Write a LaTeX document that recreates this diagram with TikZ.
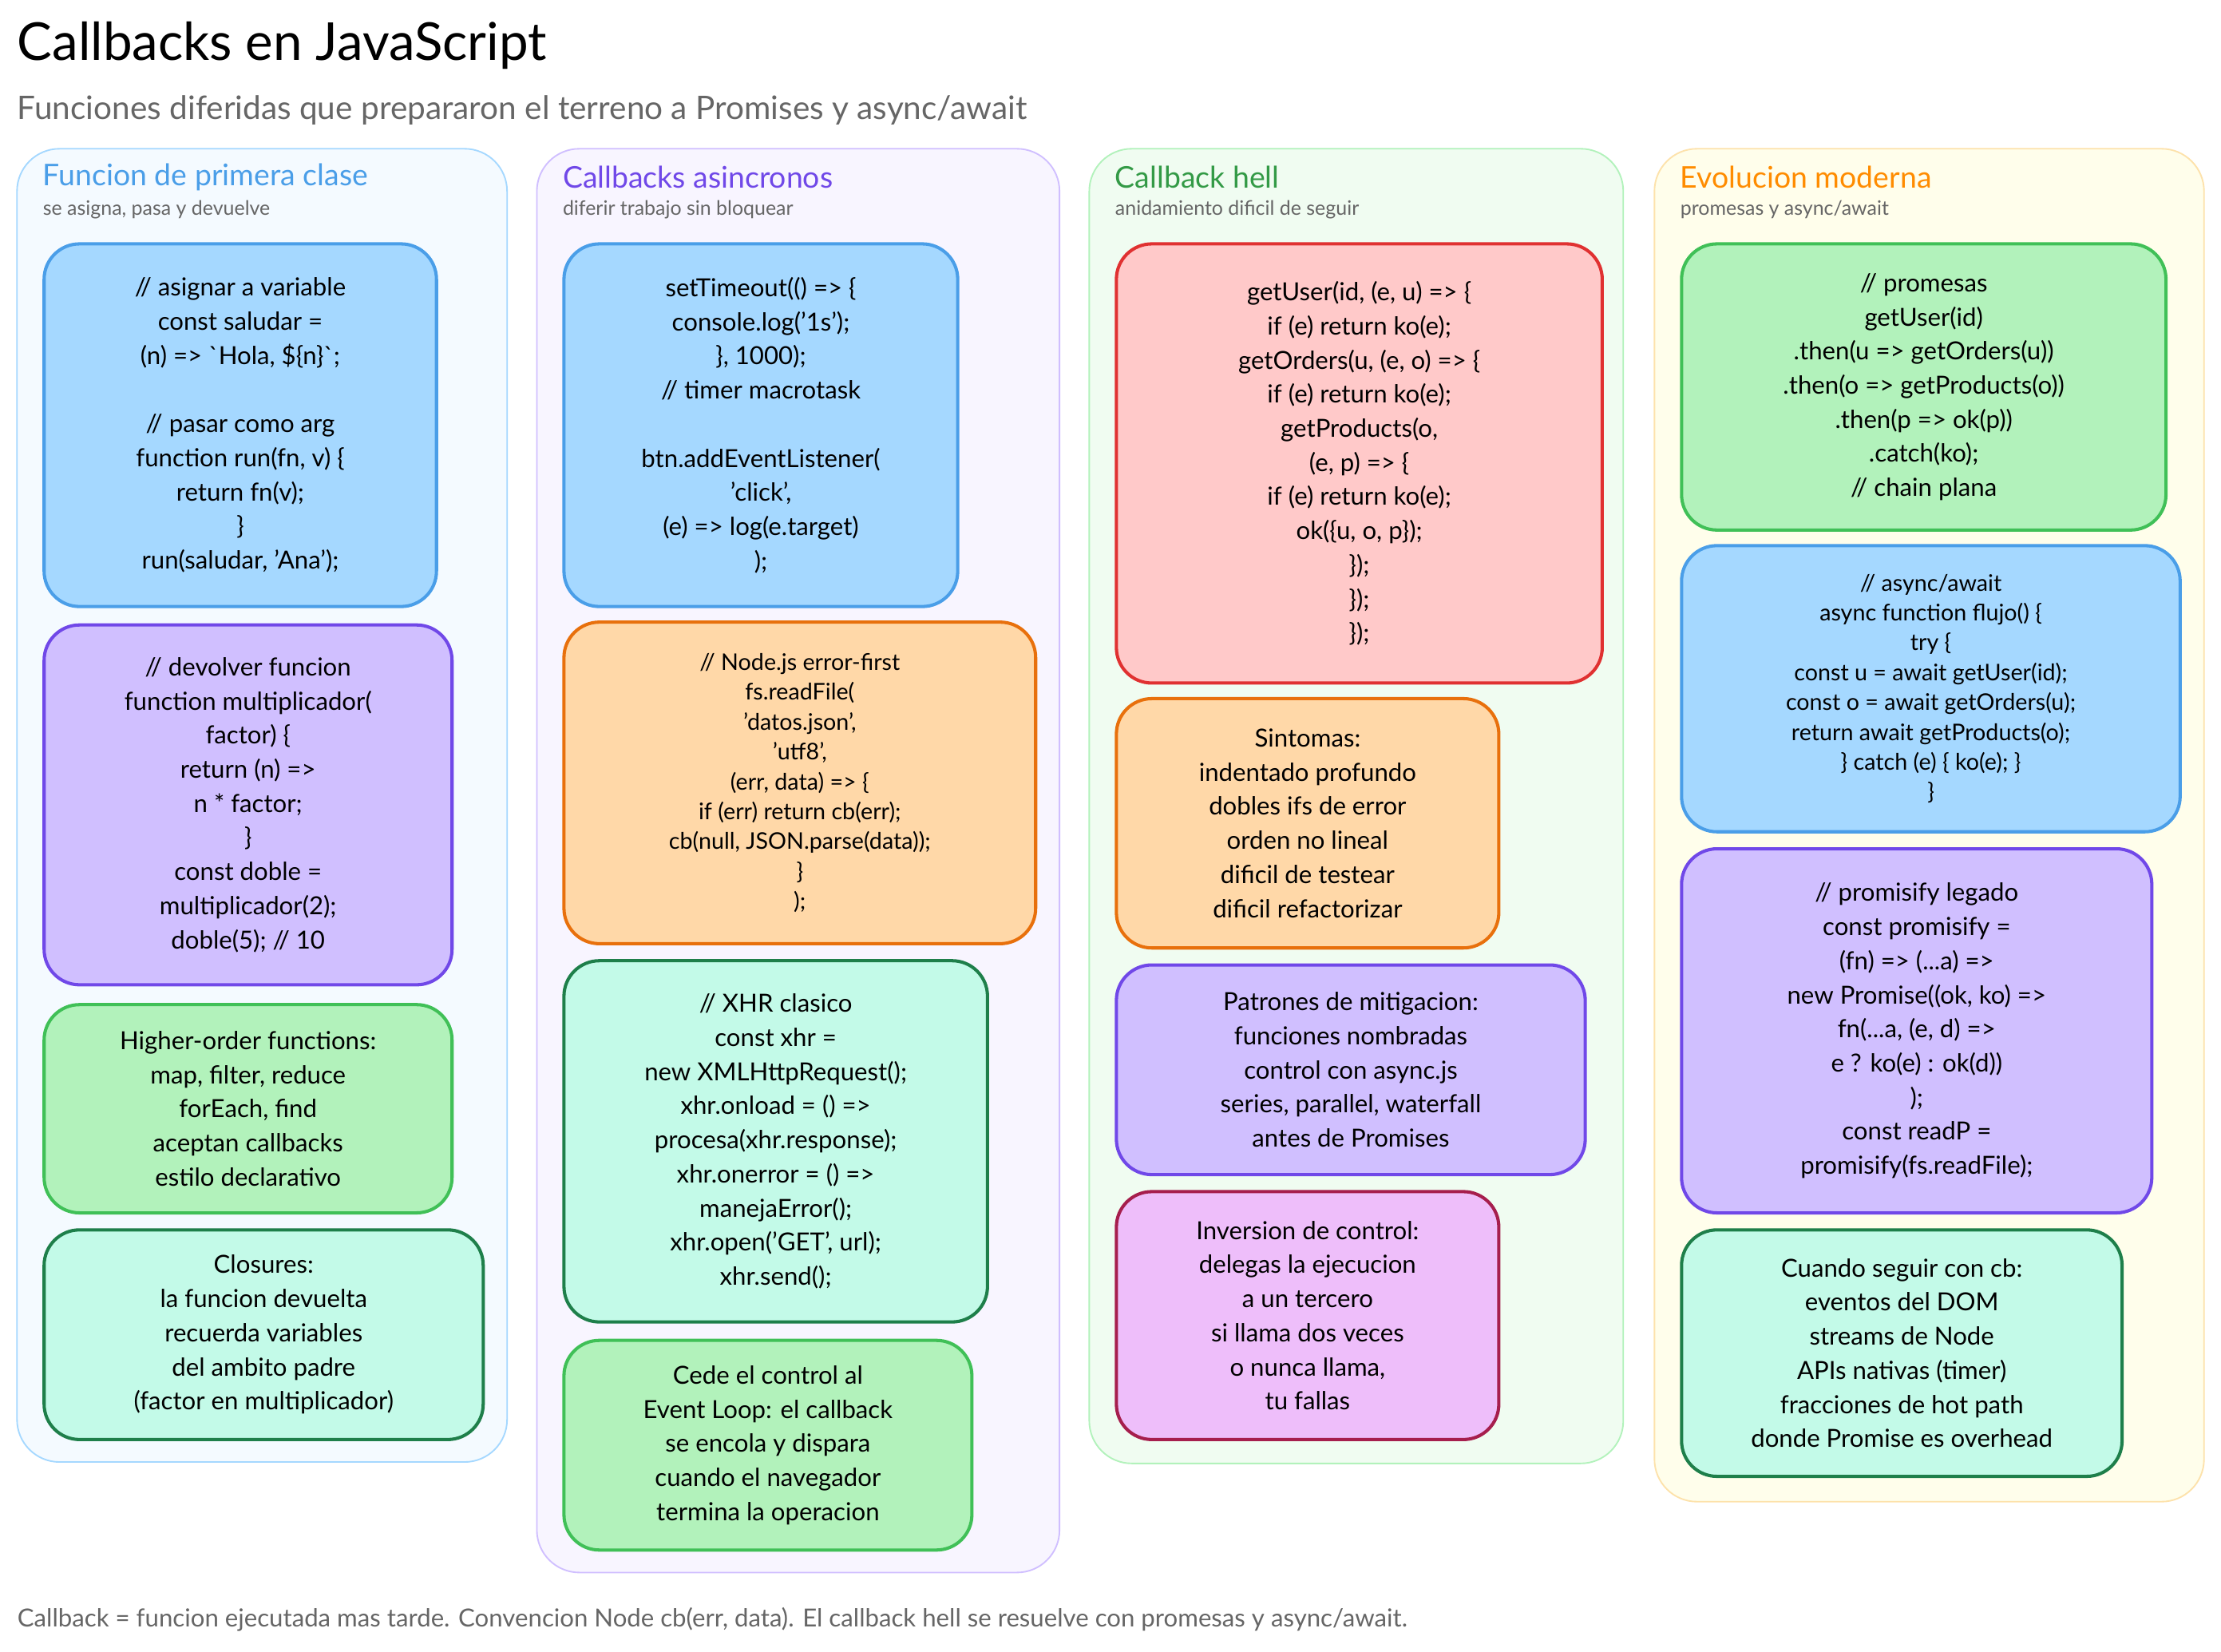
\documentclass[tikz,border=0pt]{standalone}
\usepackage{fontspec}
\setmainfont{Lato}
\usepackage{xcolor}
\usetikzlibrary{positioning}
\definecolor{cb_blue}{HTML}{A5D8FF}   \definecolor{cb_blueD}{HTML}{4A9EE8}
\definecolor{cb_purple}{HTML}{D0BFFF} \definecolor{cb_purpleD}{HTML}{7048E8}
\definecolor{cb_green}{HTML}{B2F2BB}  \definecolor{cb_greenD}{HTML}{40C057}
\definecolor{cb_teal}{HTML}{C3FAE8}   \definecolor{cb_tealD}{HTML}{1E7F4A}
\definecolor{cb_orange}{HTML}{FFD8A8} \definecolor{cb_orangeD}{HTML}{E8700C}
\definecolor{cb_red}{HTML}{FFC9C9}    \definecolor{cb_redD}{HTML}{E03131}
\definecolor{cb_pink}{HTML}{EEBEFA}   \definecolor{cb_pinkD}{HTML}{A61E4D}
\definecolor{cb_gray}{HTML}{666666}
\newcommand{\cardfont}{\fontsize{10}{13.7}\selectfont}
\newcommand{\smallcode}{\fontsize{9.2}{12}\selectfont}
\begin{document}
\begin{tikzpicture}[
        card/.style={rounded corners=0.5cm, line width=1.3pt, align=center,
                     anchor=north west, inner sep=0pt, font=\cardfont},
        cblue/.style={card, fill=cb_blue, draw=cb_blueD},
        cpurple/.style={card, fill=cb_purple, draw=cb_purpleD},
        cgreen/.style={card, fill=cb_green, draw=cb_greenD},
        cteal/.style={card, fill=cb_teal, draw=cb_tealD},
        corange/.style={card, fill=cb_orange, draw=cb_orangeD},
        cred/.style={card, fill=cb_red, draw=cb_redD},
        cpink/.style={card, fill=cb_pink, draw=cb_pinkD},
        panel/.style={rounded corners=0.6cm, line width=0.6pt},
        ptitle/.style={anchor=west, inner sep=0pt, font=\fontsize{12}{14}\selectfont},
        psub/.style={anchor=west, inner sep=0pt, text=cb_gray, font=\fontsize{8}{10}\selectfont},
      ]
        \useasboundingbox (0,0) rectangle (31.36,-23.32);
        \fill[white] (0,0) rectangle (31.36,-23.32);

        \node[anchor=west, inner sep=0pt, font=\fontsize{21}{24}\selectfont] (title) at (0.24,-0.64) {Callbacks en JavaScript};
        \node[anchor=west, inner sep=0pt, text=cb_gray, font=\fontsize{13}{16}\selectfont] (subtitle) at (0.24,-1.56)
          {Funciones diferidas que prepararon el terreno a Promises y async/await};

        % columnas
        \draw[panel, fill=cb_blue!12, draw=cb_blue] (0.24,-2.10) rectangle (7.16,-20.64);
        \draw[panel, fill=cb_purple!15, draw=cb_purple] (7.58,-2.10) rectangle (14.96,-22.20);
        \draw[panel, fill=cb_green!20, draw=cb_green] (15.38,-2.10) rectangle (22.92,-20.66);
        \draw[panel, fill=yellow!8, draw=yellow!30!orange!30] (23.36,-2.10) rectangle (31.12,-21.20);

        \node[ptitle, text=cb_blueD] (t1) at (0.60,-2.50) {Funcion de primera clase};
        \node[psub] (s1) at (0.60,-2.96) {se asigna, pasa y devuelve};
        \node[ptitle, text=cb_purpleD] (t2) at (7.94,-2.50) {Callbacks asincronos};
        \node[psub] (s2) at (7.94,-2.96) {diferir trabajo sin bloquear};
        \node[ptitle, text=cb_greenD!80!black] (t3) at (15.74,-2.50) {Callback hell};
        \node[psub] (s3) at (15.74,-2.96) {anidamiento dificil de seguir};
        \node[ptitle, text=orange!90!yellow] (t4) at (23.72,-2.50) {Evolucion moderna};
        \node[psub] (s4) at (23.72,-2.96) {promesas y async/await};

        % columna 1
        \node[cblue, minimum width=5.54cm, minimum height=5.12cm] (asignar) at (0.60,-3.42)
          {// asignar a variable\\ const saludar =\\ (n) => \textasciigrave Hola, \$\{n\}\textasciigrave;\\[13.7pt]
           // pasar como arg\\ function run(fn, v) \{\\ return fn(v);\\ \}\\ run(saludar, 'Ana');};
        \node[cpurple, minimum width=5.76cm, minimum height=5.08cm] (devolver) at (0.60,-8.80)
          {// devolver funcion\\ function multiplicador(\\ factor) \{\\ return (n) =>\\ n * factor;\\ \}\\
           const doble =\\ multiplicador(2);\\ doble(5); // 10};
        \node[cgreen, minimum width=5.76cm, minimum height=2.94cm] (higher) at (0.60,-14.16)
          {Higher-order functions:\\ map, filter, reduce\\ forEach, find\\ aceptan callbacks\\ estilo declarativo};
        \node[cteal, minimum width=6.20cm, minimum height=2.96cm] (closures) at (0.60,-17.34)
          {Closures:\\ la funcion devuelta\\ recuerda variables\\ del ambito padre\\ (factor en multiplicador)};

        % columna 2
        \node[cblue, minimum width=5.56cm, minimum height=5.12cm] (timeout) at (7.94,-3.42)
          {setTimeout(() => \{\\ console.log('1s');\\ \}, 1000);\\ // timer macrotask\\[13.7pt]
           btn.addEventListener(\\ 'click',\\ (e) => log(e.target)\\ );};
        \node[corange, minimum width=6.66cm, minimum height=4.54cm, font=\smallcode] (nodejs) at (7.94,-8.76)
          {// Node.js error-first\\ fs.readFile(\\ 'datos.json',\\ 'utf8',\\ (err, data) => \{\\
           if (err) return cb(err);\\ cb(null, JSON.parse(data));\\ \}\\ );};
        \node[cteal, minimum width=5.98cm, minimum height=5.10cm] (xhr) at (7.94,-13.54)
          {// XHR clasico\\ const xhr =\\ new XMLHttpRequest();\\ xhr.onload = () =>\\ procesa(xhr.response);\\
           xhr.onerror = () =>\\ manejaError();\\ xhr.open('GET', url);\\ xhr.send();};
        \node[cgreen, minimum width=5.76cm, minimum height=2.96cm] (loop) at (7.94,-18.90)
          {Cede el control al\\ Event Loop: el callback\\ se encola y dispara\\ cuando el navegador\\ termina la operacion};

        % columna 3
        \node[cred, minimum width=6.86cm, minimum height=6.20cm] (hell) at (15.74,-3.42)
          {getUser(id, (e, u) => \{\\ if (e) return ko(e);\\ getOrders(u, (e, o) => \{\\ if (e) return ko(e);\\
           getProducts(o,\\ (e, p) => \{\\ if (e) return ko(e);\\ ok(\{u, o, p\});\\ \});\\ \});\\ \});};
        \node[corange, minimum width=5.40cm, minimum height=3.52cm] (sintomas) at (15.74,-9.84)
          {Sintomas:\\ indentado profundo\\ dobles ifs de error\\ orden no lineal\\ dificil de testear\\ dificil refactorizar};
        \node[cpurple, minimum width=6.62cm, minimum height=2.96cm] (patrones) at (15.74,-13.60)
          {Patrones de mitigacion:\\ funciones nombradas\\ control con async.js\\ series, parallel, waterfall\\ antes de Promises};
        \node[cpink, minimum width=5.40cm, minimum height=3.50cm] (inversion) at (15.74,-16.80)
          {Inversion de control:\\ delegas la ejecucion\\ a un tercero\\ si llama dos veces\\ o nunca llama,\\ tu fallas};

        % columna 4
        \node[cgreen, minimum width=6.84cm, minimum height=4.04cm] (promesas) at (23.72,-3.42)
          {// promesas\\ getUser(id)\\ .then(u => getOrders(u))\\ .then(o => getProducts(o))\\ .then(p => ok(p))\\
           .catch(ko);\\ // chain plana};
        \node[cblue, minimum width=7.04cm, minimum height=4.04cm, font=\smallcode] (asyncawait) at (23.72,-7.68)
          {// async/await\\ async function flujo() \{\\ try \{\\ const u = await getUser(id);\\ const o = await getOrders(u);\\
           return await getProducts(o);\\ \} catch (e) \{ ko(e); \}\\ \}};
        \node[cpurple, minimum width=6.64cm, minimum height=5.14cm] (promisify) at (23.72,-11.96)
          {// promisify legado\\ const promisify =\\ (fn) => (...a) =>\\ new Promise((ok, ko) =>\\ fn(...a, (e, d) =>\\
           e ? ko(e) : ok(d))\\ );\\ const readP =\\ promisify(fs.readFile);};
        \node[cteal, minimum width=6.22cm, minimum height=3.48cm] (seguir) at (23.72,-17.34)
          {Cuando seguir con cb:\\ eventos del DOM\\ streams de Node\\ APIs nativas (timer)\\ fracciones de hot path\\ donde Promise es overhead};

        \node[anchor=west, inner sep=0pt, text=cb_gray, font=\fontsize{10}{12}\selectfont] (footer) at (0.24,-22.86)
          {Callback = funcion ejecutada mas tarde. Convencion Node cb(err, data). El callback hell se resuelve con promesas y async/await.};
      \end{tikzpicture}
\end{document}
